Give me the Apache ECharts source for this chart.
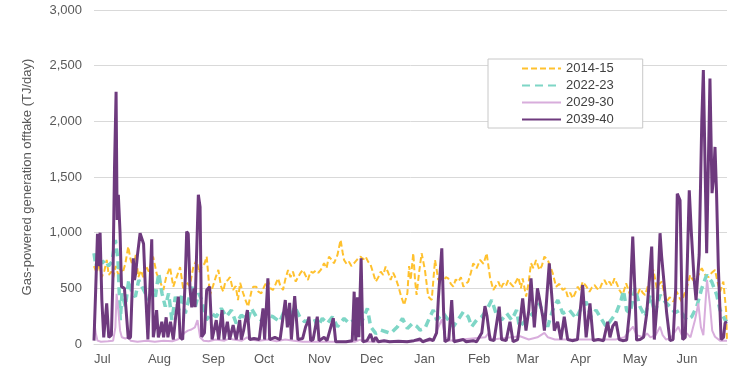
<!DOCTYPE html>
<html>
<head>
<meta charset="utf-8">
<script src="https://cdn.jsdelivr.net/npm/echarts@6/dist/echarts.min.js"></script>
<style>
html,body{margin:0;padding:0;background:#fff;}
#chart{width:741px;height:380px;}
</style>
</head>
<body>
<div id="chart"></div>
<script>
// Month tick labels (x = day of financial year, July 1 = day 0)
const monthNames = ['Jul','Aug','Sep','Oct','Nov','Dec','Jan','Feb','Mar','Apr','May','Jun'];
const monthStartDays = [0,31,62,92,123,153,184,215,243,274,304,335];
const yTicks = [0,500,1000,1500,2000,2500,3000];
const seriesNames = ['2014-15','2022-23','2029-30','2039-40'];

// [day, TJ/day]
const data2014 = [[0,700],[1.5,640],[3,720],[4.5,600],[6,660],[7.3,755],[8.5,620],[10,650],[11.1,600],[12.5,700],[14,620],[15,680],[16.5,640],[18,720],[19.7,875],[21,760],[22.6,690],[24,800],[25.5,600],[27,660],[28.3,600],[30,700],[31.5,650],[33,740],[34,785],[36,635],[38,560],[39.9,485],[41.5,600],[43.7,690],[45.6,515],[47.5,600],[49.5,690],[51.4,485],[53,560],[55,520],[57.1,690],[59,755],[60.5,640],[62,700],[63.5,720],[64.8,785],[66.7,440],[68.4,520],[70,600],[71.5,665],[73,520],[74.3,470],[75.5,560],[77,575],[78.2,600],[79.9,485],[81.5,520],[82.8,395],[84,550],[85.7,460],[87,400],[88.6,335],[90.5,470],[91.6,515],[93.3,515],[94.5,470],[96.2,455],[98,520],[100,575],[101.5,500],[102.9,485],[104.5,540],[105.8,590],[107.2,520],[108.7,485],[110,580],[111.6,665],[113,600],[114.4,650],[116,560],[117.3,600],[118.8,640],[120.2,665],[121.5,620],[123,575],[124.5,650],[126,640],[127.5,660],[129,640],[130.4,665],[132.3,725],[133.7,680],[135.1,785],[136.5,760],[138,725],[140,800],[141.8,935],[143,820],[143.8,755],[145.2,720],[146.6,740],[148,700],[149.5,725],[151.4,760],[153.3,785],[154.8,760],[156.2,785],[157.6,740],[159.1,710],[160.5,640],[162,560],[163.5,600],[164.9,650],[166.3,620],[167.7,695],[169.2,640],[170.6,575],[172,640],[173.5,590],[175,520],[176.4,440],[178.3,350],[180.2,455],[181.2,700],[182.1,575],[183.6,815],[184.6,575],[185.5,440],[187,650],[188.4,815],[190.3,665],[192.2,425],[194.2,395],[196.1,755],[198,575],[199.5,620],[200.9,560],[202.3,600],[203.7,590],[205.2,540],[206.6,515],[208,580],[209.5,560],[211,600],[212.4,515],[213.8,540],[215.2,560],[216.7,640],[218.1,725],[220,680],[222,755],[224,720],[225.8,815],[227.7,600],[229.6,485],[231,520],[232.5,560],[234,500],[235.4,545],[236.8,520],[238.2,575],[239.7,540],[241.1,515],[242.6,560],[244,600],[245.5,500],[246.5,590],[248.5,425],[250,560],[251.3,725],[252.7,680],[254.2,755],[256.1,665],[257.5,700],[259,785],[260.9,755],[262.3,700],[263.8,635],[265.7,515],[267.6,540],[269.5,485],[271,500],[272.4,425],[273.8,460],[275.3,410],[276.8,460],[278.2,515],[279.6,480],[281,560],[283,520],[284.9,470],[286.4,510],[287.8,530],[289.2,500],[290.6,485],[292,540],[293.5,575],[295,530],[296.4,560],[297.8,520],[299.3,590],[300.7,540],[302.1,485],[304,440],[306,545],[308.3,440],[310,470],[312,420],[314,500],[315.5,460],[316.9,440],[318.5,520],[320,600],[321.7,665],[323.6,500],[325,540],[326.5,560],[328,450],[329.3,380],[331,420],[333.2,380],[335.1,470],[336.5,420],[338,380],[339.5,450],[340.8,500],[342.8,620],[344.2,580],[345.6,560],[347.5,620],[349.5,680],[351.5,620],[353.3,600],[355.2,640],[357.1,665],[358.5,560],[360,470],[361.9,560],[363.5,300],[364,20]];

const data2022 = [[0,815],[1.1,700],[2.7,785],[4.6,725],[6.5,755],[8.4,700],[10.3,740],[12.3,935],[13.8,755],[15.1,215],[16.1,455],[18,335],[20,575],[21.9,455],[23.8,425],[25.7,575],[27.6,515],[29.5,455],[31.4,395],[33.3,515],[35.3,425],[37.2,635],[39.1,455],[41,335],[42.9,455],[44.8,215],[46.8,425],[48.7,305],[50.6,455],[52.5,275],[54.4,395],[56.4,515],[58.3,335],[60.2,455],[62,395],[64.6,215],[67.5,275],[70.3,245],[73.2,320],[76.1,245],[79,305],[81.8,185],[84.7,260],[88.6,215],[90.5,320],[93.3,245],[96.2,215],[100,260],[102.9,245],[106.8,200],[109.6,305],[112.5,215],[115.4,335],[118.3,245],[121.1,200],[123.7,215],[126.6,230],[128.5,155],[131.3,230],[134.2,185],[137.1,245],[140,155],[143.8,230],[146.7,185],[149.6,215],[152.4,155],[155.3,245],[157.2,320],[159.1,155],[162,95],[164.9,125],[167.8,110],[170.6,95],[174.5,155],[177.4,230],[180.2,140],[183.1,185],[185.5,160],[187.5,125],[190.3,140],[193.2,245],[195.1,305],[197,215],[200.9,275],[203.7,215],[206.6,155],[210.5,245],[212.4,290],[215.2,245],[217.2,155],[220,215],[222.9,245],[225.8,305],[228.7,395],[231.5,260],[234.4,215],[237.3,275],[240.2,215],[243,305],[244.6,155],[248.5,215],[251.3,260],[254.2,305],[256.1,365],[259,245],[260.9,155],[263.8,305],[266.7,395],[269.5,275],[273.4,305],[277.2,230],[280.1,320],[283,380],[285.8,245],[288.7,305],[291.6,230],[294.5,155],[297.3,215],[300.2,275],[303.1,395],[304.5,480],[306.3,300],[308.3,280],[311.1,500],[314,335],[316.9,245],[319.8,440],[322.6,280],[325.5,440],[328.4,380],[331.3,335],[334.1,280],[337,305],[340.8,215],[343.7,245],[346.6,335],[349.5,500],[352.3,620],[355.2,560],[358.1,440],[360,305],[362.9,215],[364,200]];

const data2029 = [[0,215],[1,100],[2,30],[4,20],[8,25],[11,30],[12.3,150],[13,450],[14,300],[15,120],[16,60],[18,50],[20,60],[21,30],[25,20],[30,30],[35,20],[40,30],[45,25],[48,40],[50,60],[52,100],[54,120],[56,130],[58,150],[59.5,215],[61,60],[63,30],[66,25],[70,40],[75,30],[78,50],[80,40],[85,30],[88,60],[90,40],[95,30],[100,40],[105,25],[110,40],[115,30],[120,20],[150,20],[153,40],[155,20],[195,30],[198,150],[200,220],[202,60],[204,30],[225,60],[227,100],[229,40],[245,70],[250,40],[255,60],[259,100],[261,60],[265,40],[300,40],[305,60],[308,120],[310,155],[312,80],[316,60],[318,95],[320,60],[323,80],[325.5,155],[327,80],[329,40],[332,60],[336,155],[338,80],[341,95],[343,60],[345.6,215],[347.5,365],[349,150],[350.4,80],[352.5,575],[354.3,335],[355.5,120],[357.1,65],[360,30],[364,30]];

const data2039 = [[0,30],[1,500],[2,990],[2.8,700],[3.5,1000],[4.5,400],[5.6,60],[7.3,365],[8.5,60],[10,80],[10.9,600],[11.8,1590],[12.7,2265],[13.3,1115],[14,1340],[15,995],[15.8,515],[17.5,500],[18.5,515],[19.7,50],[21,60],[22.6,770],[23.3,575],[24,640],[25,800],[26.5,995],[27.5,990],[28.5,900],[29.5,515],[31,40],[33.2,940],[34.1,60],[35,150],[36,305],[37,60],[38,120],[39,200],[40,60],[41.5,240],[42.5,60],[44,200],[45.6,40],[47,250],[48.5,425],[49.5,60],[51,40],[52.5,600],[53.3,1010],[54.2,990],[55.2,500],[56.2,330],[57.5,500],[58.1,330],[60,1340],[61,1230],[61.9,65],[63.5,100],[64.8,485],[66.5,515],[67.9,40],[70.3,215],[71.7,40],[73.6,305],[74.8,40],[76.7,200],[78,40],[80,170],[81.8,40],[83.8,215],[84.7,40],[86,120],[88.2,305],[89.5,40],[92,50],[95,40],[97.2,320],[98.1,40],[100,590],[101,40],[104,60],[107,40],[110,395],[111.2,150],[112.5,370],[113.5,40],[115.4,430],[117.3,40],[120,50],[121.7,155],[123,200],[123.6,245],[124.6,30],[126,40],[128.4,245],[129.4,30],[132.3,60],[134,30],[137.6,233],[139,20],[145,20],[148.5,30],[149.6,470],[150.5,30],[151.5,420],[152.3,60],[153.6,770],[154.6,20],[157,30],[159,90],[160.5,20],[162,60],[163.5,20],[166.8,30],[170,20],[175,25],[180,20],[184,30],[187.5,45],[189,20],[193.2,45],[195,30],[197,100],[198,400],[200,860],[201,300],[201.8,20],[204,40],[205.7,395],[207,20],[212.4,40],[214,20],[218,30],[220,20],[223,100],[224.8,340],[226,250],[227.7,40],[230,30],[233,335],[234.4,40],[237,30],[239.2,200],[241,20],[243.6,40],[245,200],[246.5,410],[248.4,120],[250,300],[251.3,590],[253.2,150],[255,500],[256.5,380],[258,250],[259,120],[261,555],[261.8,725],[263.4,400],[264.7,120],[266.6,200],[268.5,40],[270.4,245],[272.4,40],[275,30],[278,40],[281,530],[283,60],[285.2,365],[287.1,30],[290,40],[293,30],[295.4,200],[296.7,60],[298.3,160],[300.2,200],[302,40],[304,30],[306.3,35],[308,300],[309.8,965],[311,500],[312,35],[314,40],[316,60],[317.8,270],[319,500],[320.7,875],[322.2,40],[324,400],[325.5,995],[326.4,790],[327.5,600],[329.3,280],[331.2,30],[333,40],[334.5,500],[335.4,1350],[337,1290],[338.5,40],[340,60],[341.3,800],[342.3,1380],[343.5,1000],[345,600],[346.2,395],[348,800],[349.5,2000],[350.4,2460],[351.5,1500],[352.3,815],[353.5,1800],[354.2,2385],[355.4,1355],[356.3,1500],[357.1,1770],[358,1350],[359,700],[360.6,40],[362,60],[362.9,190],[364,200]];

const chart = echarts.init(document.getElementById('chart'), null, {renderer:'canvas'});
const fmt = v => String(v).replace(/\B(?=(\d{3})+(?!\d))/g, ',');
const font = 'Liberation Sans, Arial, sans-serif';
chart.setOption({
  animation: false,
  backgroundColor: '#ffffff',
  textStyle: {fontFamily: font},
  grid: {left: 94, right: 14, top: 10, bottom: 36, outerBoundsMode: 'none'},
  legend: {
    data: seriesNames,
    orient: 'vertical',
    left: 488, top: 59,
    itemWidth: 39, itemHeight: 12, itemGap: 4,
    padding: [3, 29, 2, 33],
    borderColor: '#c8c8c8', borderWidth: 1,
    backgroundColor: '#ffffff',
    itemStyle: {opacity: 0, borderWidth: 0},
    textStyle: {fontSize: 13, color: '#404040', fontFamily: font}
  },
  xAxis: {
    type: 'value', min: 0, max: 364,
    axisLine: {show: true, lineStyle: {color: '#d9d9d9'}},
    axisTick: {show: false},
    splitLine: {show: false},
    axisLabel: {
      customValues: monthStartDays,
      formatter: v => monthNames[monthStartDays.indexOf(v)],
      align: 'left', margin: 9, fontSize: 13, color: '#595959', fontFamily: font,
      showMinLabel: true, showMaxLabel: true, hideOverlap: false
    }
  },
  yAxis: {
    type: 'value', min: 0, max: 3000, interval: 500,
    name: 'Gas-powered generation offtake (TJ/day)',
    nameLocation: 'middle', nameGap: 60, nameRotate: 90,
    nameTextStyle: {fontSize: 13, color: '#595959', fontFamily: font},
    axisLine: {show: false}, axisTick: {show: false},
    splitLine: {lineStyle: {color: '#d9d9d9', width: 1}},
    axisLabel: {formatter: v => yTicks.includes(v) ? fmt(v) : '', margin: 12, fontSize: 13, color: '#595959', fontFamily: font}
  },
  series: [
    {name: seriesNames[0], type: 'line', data: data2014, symbol: 'none', z: 2,
     lineStyle: {color: '#FFC12E', width: 2, type: [6, 3]}, itemStyle: {color: '#FFC12E'}},
    {name: seriesNames[1], type: 'line', data: data2022, symbol: 'none', z: 3,
     lineStyle: {color: '#7ED6C6', width: 3.5, type: [8, 5]}, itemStyle: {color: '#7ED6C6'}},
    {name: seriesNames[2], type: 'line', data: data2029, symbol: 'none', z: 4,
     lineStyle: {color: '#D8ADDC', width: 2}, itemStyle: {color: '#D8ADDC'}},
    {name: seriesNames[3], type: 'line', data: data2039, symbol: 'none', z: 5,
     lineStyle: {color: '#6E3A7E', width: 3}, itemStyle: {color: '#6E3A7E'}}
  ]
});
</script>
</body>
</html>
